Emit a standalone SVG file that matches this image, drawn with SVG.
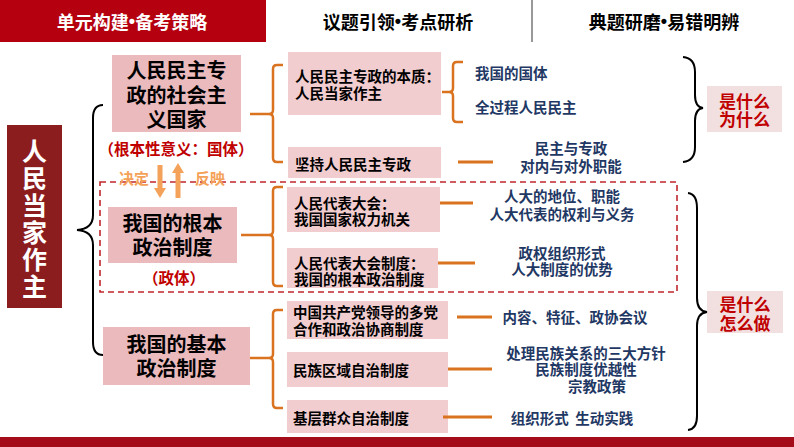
<svg xmlns="http://www.w3.org/2000/svg" width="794" height="447" viewBox="0 0 794 447">
<style>
text{font-family:"Noto Sans CJK SC","Noto Sans CJK TC",sans-serif;font-weight:bold;}
.hd{font-size:18px;text-anchor:middle;dominant-baseline:central;}
.dot{font-family:"Liberation Sans",sans-serif;}
.big{font-size:20px;fill:#000;text-anchor:middle;dominant-baseline:central;}
.mid{font-size:14.5px;fill:#000;dominant-baseline:central;}
.nav{font-size:14.5px;fill:#1F3864;dominant-baseline:central;}
.navc{font-size:14.5px;fill:#1F3864;text-anchor:middle;dominant-baseline:central;}
.red{font-size:15.5px;fill:#C00000;text-anchor:middle;dominant-baseline:central;}
.tag{font-size:17px;fill:#C00000;text-anchor:middle;dominant-baseline:central;}
.pk{fill:#EBBABD;}
.pk2{fill:#F2CDCF;}
.ob{fill:none;stroke:#D9731F;stroke-width:2.5;}
.ol{stroke:#D9731F;stroke-width:3;}
.bb{fill:none;stroke:#000;stroke-width:2;}
.arr{fill:#F4A25A;}
.vt{font-size:25px;fill:#fff;text-anchor:middle;dominant-baseline:central;}
</style>

<g id="header">
<rect x="0" y="0" width="266" height="42" fill="#B5000F"/>
<text class="hd" x="132" y="21" fill="#fff">单元构建<tspan class="dot">•</tspan>备考策略</text>
<text class="hd" x="398" y="21" fill="#000">议题引领<tspan class="dot">•</tspan>考点研析</text>
<line x1="532" y1="0" x2="532" y2="42" stroke="#333" stroke-width="1"/>
<text class="hd" x="664" y="21" fill="#000">典题研磨<tspan class="dot">•</tspan>易错明辨</text>
</g>
<rect id="footer" x="0" y="437" width="794" height="10" fill="#A30C18"/>

<g id="root">
<rect x="7" y="125" width="55" height="183" fill="#8C1D1F"/>
<text class="vt"><tspan x="34.5" y="150">人</tspan><tspan x="34.5" y="177">民</tspan><tspan x="34.5" y="204">当</tspan><tspan x="34.5" y="231">家</tspan><tspan x="34.5" y="258">作</tspan><tspan x="34.5" y="285">主</tspan></text>
</g>

<g id="n_guoti">
<rect class="pk" x="112" y="55" width="129" height="77"/>
<text class="big"><tspan x="176.5" y="69">人民民主专</tspan><tspan x="176.5" y="94">政的社会主</tspan><tspan x="176.5" y="118">义国家</tspan></text>
<text class="red" x="176" y="148">（根本性意义：国体）</text>
</g>

<g id="n_genben">
<rect class="pk" x="108" y="207" width="129" height="56"/>
<text class="big"><tspan x="172.5" y="222">我国的根本</tspan><tspan x="172.5" y="246">政治制度</tspan></text>
<text class="red" x="174" y="277">（政体）</text>
</g>

<g id="n_jiben">
<rect class="pk" x="103" y="327" width="147" height="58"/>
<text class="big"><tspan x="176.5" y="343">我国的基本</tspan><tspan x="176.5" y="367">政治制度</tspan></text>
</g>

<g id="n_benzhi">
<rect class="pk2" x="288" y="52" width="153" height="63"/>
<text class="mid"><tspan x="295" y="75">人民民主专政的本质：</tspan><tspan x="295" y="92">人民当家作主</tspan></text>
</g>
<g id="n_jianchi">
<rect class="pk2" x="288" y="147" width="153" height="31"/>
<text class="mid" x="295" y="163">坚持人民民主专政</text>
</g>
<g id="n_rendahui">
<rect class="pk2" x="287" y="187" width="153" height="45"/>
<text class="mid"><tspan x="294" y="202">人民代表大会：</tspan><tspan x="294" y="218">我国国家权力机关</tspan></text>
</g>
<g id="n_rendazhidu">
<rect class="pk2" x="287" y="248" width="151" height="40"/>
<text class="mid"><tspan x="294" y="262">人民代表大会制度：</tspan><tspan x="294" y="278">我国的根本政治制度</tspan></text>
</g>
<g id="n_duodang">
<rect class="pk2" x="287" y="301" width="161" height="38"/>
<text class="mid"><tspan x="293" y="311">中国共产党领导的多党</tspan><tspan x="293" y="328">合作和政治协商制度</tspan></text>
</g>
<g id="n_minzu">
<rect class="pk2" x="287" y="352" width="161" height="35"/>
<text class="mid" x="293" y="369">民族区域自治制度</text>
</g>
<g id="n_jiceng">
<rect class="pk2" x="287" y="400" width="161" height="33"/>
<text class="mid" x="293" y="417">基层群众自治制度</text>
</g>

<g id="n_col3">
<text class="nav" x="475" y="72">我国的国体</text>
<text class="nav" x="475" y="106">全过程人民民主</text>
<text class="navc"><tspan x="571" y="147">民主与专政</tspan><tspan x="571" y="165">对内与对外职能</tspan></text>
<text class="navc"><tspan x="562" y="195">人大的地位、职能</tspan><tspan x="562" y="213">人大代表的权利与义务</tspan></text>
<text class="navc"><tspan x="562" y="252">政权组织形式</tspan><tspan x="562" y="268">人大制度的优势</tspan></text>
<text class="navc" x="575" y="316">内容、特征、政协会议</text>
<text class="navc"><tspan x="586" y="352">处理民族关系的三大方针</tspan><tspan x="586" y="368">民族制度优越性</tspan><tspan x="597" y="385">宗教政策</tspan></text>
<text class="navc" x="572" y="417" style="white-space:pre">组织形式  生动实践</text>
</g>

<g id="n_tag1">
<rect x="707" y="86" width="75" height="46" fill="#F2E0E0"/>
<text class="tag"><tspan x="744.5" y="100">是什么</tspan><tspan x="744.5" y="118">为什么</tspan></text>
</g>
<g id="n_tag2">
<rect x="707" y="291" width="76" height="42" fill="#F2E0E0"/>
<text class="tag"><tspan x="745" y="303">是什么</tspan><tspan x="745" y="322">怎么做</tspan></text>
</g>

<g id="connectors">
<path class="bb" d="M103,105 Q93,105 93,118 V215 Q93,229 77,230 Q93,231 93,245 V342 Q93,355 103,355"/>
<rect x="100" y="182" width="577" height="110" fill="none" stroke="#C0272D" stroke-width="1.6" stroke-dasharray="6 4"/>
<path class="ob" d="M283,65 H277 Q273,65 273,69 V110 Q273,114 269,114 H250 M269,114 Q273,114 273,118 V158 Q273,162 277,162 H283"/>
<path class="ob" d="M283,187 H277 Q273,187 273,191 V231 Q273,235 269,235 H241 M269,235 Q273,235 273,239 V282 Q273,286 277,286 H283"/>
<path class="ob" d="M283,310 H277 Q273,310 273,314 V354 Q273,358 269,358 H250 M269,358 Q273,358 273,362 V404 Q273,408 277,408 H283"/>
<path class="ob" d="M463,62 H457 Q453,62 453,66 V88 Q453,92 449,92 H442 M449,92 Q453,92 453,96 V118 Q453,122 457,122 H463"/>
<line class="ol" x1="458" y1="162" x2="493" y2="162"/>
<line class="ol" x1="440" y1="203" x2="473" y2="203"/>
<line class="ol" x1="438" y1="263" x2="475" y2="263"/>
<line class="ol" x1="457" y1="317" x2="492" y2="317"/>
<line class="ol" x1="448" y1="369" x2="492" y2="369"/>
<line class="ol" x1="443" y1="417" x2="492" y2="417"/>
<path class="bb" d="M683,57 Q695,58 695,72 V95 Q695,107 703,108 Q695,109 695,121 V147 Q695,161 683,162"/>
<path class="bb" d="M688,193 Q697,194 697,208 V298 Q697,311 707,312 Q697,313 697,326 V416 Q697,429 688,430"/>
<path class="arr" d="M157.5,165 H162.5 V188 H166 L160,198 L154,188 H157.5 Z"/>
<path class="arr" d="M175.5,198 H180.5 V173 H184 L178,163 L172,173 H175.5 Z"/>
<text x="134" y="177" style="font-size:15px;fill:#F4A25A;text-anchor:middle;dominant-baseline:central;">决定</text>
<text x="210" y="177" style="font-size:15px;fill:#F4A25A;text-anchor:middle;dominant-baseline:central;">反映</text>
</g>
</svg>
